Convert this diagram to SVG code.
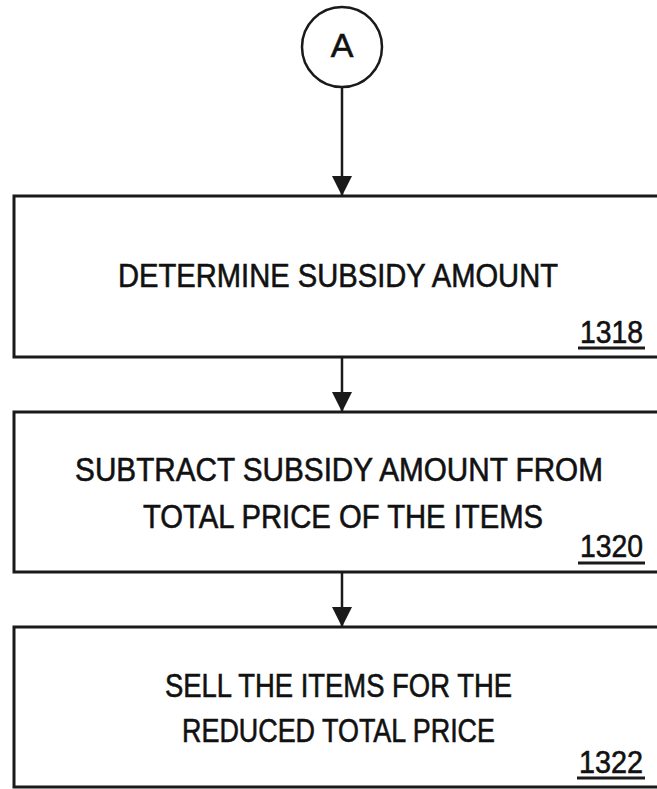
<svg xmlns="http://www.w3.org/2000/svg" width="657" height="789" viewBox="0 0 657 789">
  <style>
    .box { fill: none; stroke: #1a1a1a; stroke-width: 3; }
    .wire { fill: none; stroke: #1a1a1a; stroke-width: 2.5; }
    .uline { stroke: #1a1a1a; stroke-width: 3; }
    .lbl { font-family: "Liberation Sans", Arial, sans-serif; font-size: 33px; fill: #111; stroke: #111; stroke-width: 0.6; text-anchor: middle; }
    .ref { font-family: "Liberation Sans", Arial, sans-serif; font-size: 32px; fill: #111; stroke: #111; stroke-width: 0.6; }
    .conn { font-family: "Liberation Sans", Arial, sans-serif; font-size: 34px; fill: #111; stroke: #111; stroke-width: 0.6; text-anchor: middle; }
  </style>
  <defs>
    <marker id="arrow" markerWidth="20" markerHeight="20" refX="19" refY="10" orient="auto" markerUnits="userSpaceOnUse">
      <path d="M0,0 L20,10 L0,20 Z" fill="#1a1a1a"/>
    </marker>
  </defs>
  <rect width="657" height="789" fill="#fff"/>

  <g id="connector-A">
    <circle cx="342" cy="47" r="40" fill="none" stroke="#1a1a1a" stroke-width="2.5"/>
    <text class="conn" x="342" y="57">A</text>
  </g>

  <g id="node-1318">
    <path class="box" d="M660,196 H14 V357 H660"/>
    <text class="lbl" x="338" y="287" textLength="440" lengthAdjust="spacingAndGlyphs">DETERMINE SUBSIDY AMOUNT</text>
    <text class="ref" x="580" y="343" textLength="63" lengthAdjust="spacingAndGlyphs">1318</text>
    <line class="uline" x1="578" y1="348" x2="645" y2="348"/>
  </g>

  <g id="node-1320">
    <path class="box" d="M660,412 H14 V572 H660"/>
    <!-- long first line: condensed with a horizontal scale about its centre -->
    <text class="lbl" transform="translate(339,481) scale(0.9,1)" x="0" y="0">SUBTRACT SUBSIDY AMOUNT FROM</text>
    <text class="lbl" x="343" y="528" textLength="400" lengthAdjust="spacingAndGlyphs">TOTAL PRICE OF THE ITEMS</text>
    <text class="ref" x="580" y="557" textLength="63" lengthAdjust="spacingAndGlyphs">1320</text>
    <line class="uline" x1="578" y1="563" x2="645" y2="563"/>
  </g>

  <g id="node-1322">
    <path class="box" d="M660,627 H14 V787 H660"/>
    <text class="lbl" x="338.5" y="697" textLength="347" lengthAdjust="spacingAndGlyphs">SELL THE ITEMS FOR THE</text>
    <text class="lbl" x="338.5" y="742" textLength="313" lengthAdjust="spacingAndGlyphs">REDUCED TOTAL PRICE</text>
    <text class="ref" x="579" y="773" textLength="64" lengthAdjust="spacingAndGlyphs">1322</text>
    <line class="uline" x1="577" y1="778" x2="645" y2="778"/>
  </g>

  <g id="connectors">
    <line class="wire" x1="342" y1="87" x2="342" y2="195" marker-end="url(#arrow)"/>
    <line class="wire" x1="342" y1="358" x2="342" y2="411" marker-end="url(#arrow)"/>
    <line class="wire" x1="342" y1="573" x2="342" y2="626" marker-end="url(#arrow)"/>
  </g>
</svg>
